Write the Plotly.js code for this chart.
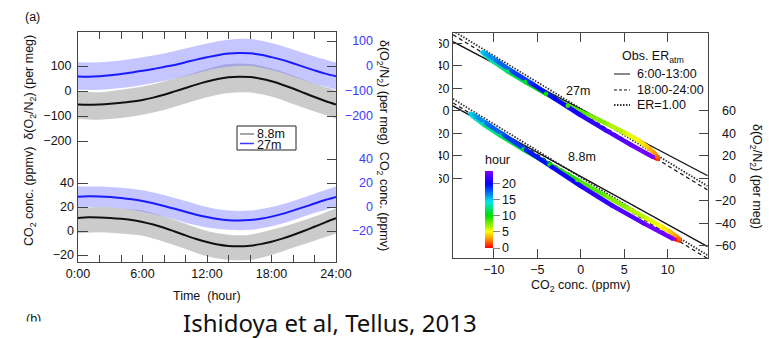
<!DOCTYPE html>
<html><head><meta charset="utf-8">
<script src="https://cdn.plot.ly/plotly-3.0.1.min.js"></script>
<style>html,body{margin:0;padding:0;background:#fff}#chart{width:769px;height:338px}</style>
</head><body><div id="chart"></div>
<script>
// ---------- data ----------
const hours = [0,1,2,3,4,5,6,7,8,9,10,11,12,13,14,15,16,17,18,19,20,21,22,23,24];
// fitted diurnal curves, 8.8 m (black)
const co2_88 = [10.9,11.4,11.3,10.9,10.2,9.1,7.6,5.4,2.7,-0.4,-3.6,-6.6,-9.2,-11.2,-12.4,-12.7,-12.2,-10.9,-8.9,-6.3,-3.3,0.0,3.6,7.2,10.6];
const o2_88  = [-54.1,-55.4,-53.9,-51.1,-47.3,-42.2,-35.8,-26.6,-15.0,-1.6,12.2,25.6,37.7,48.0,55.0,57.4,55.6,49.1,38.8,25.2,9.8,-7.0,-24.2,-39.9,-53.7];
// fitted diurnal curves, 27 m (blue)
const co2_27 = [8.6,8.9,8.8,8.4,7.6,6.5,5.0,3.1,0.9,-1.5,-4.0,-6.4,-8.4,-10.0,-11.0,-11.3,-10.9,-9.8,-8.0,-5.7,-3.0,-0.1,2.9,5.8,8.3];
const o2_27  = [-42.0,-42.9,-40.9,-37.1,-31.8,-25.7,-19.3,-12.0,-3.8,4.4,15.0,25.6,34.9,43.3,49.5,51.9,50.5,44.9,35.5,24.4,10.8,-3.6,-17.5,-30.5,-41.1];
// extent of the scattered observations (every 2 h)
const bandHours = [0,2,4,6,8,10,12,14,16,18,20,22,24];
const o2_88_hi  = [0,-5,5,18,38,62,88,108,108,90,62,30,2];
const o2_88_lo  = [-112,-115,-108,-95,-76,-50,-25,-8,-6,-22,-52,-82,-110];
const o2_27_hi  = [15,15,22,35,50,70,90,105,108,92,66,38,14];
const o2_27_lo  = [-95,-95,-88,-76,-60,-40,-18,-3,0,-16,-42,-70,-94];
const co2_88_hi = [19,20,19,17,12,6,0,-3,-3,1,6,12,19];
const co2_88_lo = [-2,-1,-2,-4,-9,-15,-21,-24,-24,-20,-14,-8,-2];
const co2_27_hi = [17,17,16,14,10,5,0,-3,-3,0,5,11,17];
const co2_27_lo = [0,0,-1,-4,-8,-13,-17,-19,-19,-16,-11,-5,0];
// observed ER lines (right panel)
const erX = [-14.7,14.6];
const er27_solid = [61.3,-57.8], er27_dash = [67.5,-70.5], er27_dot = [71,-67];
const er88_solid = [64.3,-60.8], er88_dash = [67,-71.5], er88_dot = [70.5,-68.5];
// ticks
const timeTicks = [0,2,4,6,8,10,12,14,16,18,20,22,24];
const timeLabels = ['0:00','','','6:00','','','12:00','','','18:00','','','24:00'];
const o2Ticks = [-200,-100,0,100];
const co2Ticks = [-20,0,20,40];
const erTicksY = [-60,-40,-20,0,20,40,60];
const erTicksX = [-10,-5,0,5,10];
const hourTicks = [0,5,10,15,20];

// ---------- helpers ----------
const W = 769, H = 338;
const px = v => v / W, py = v => 1 - v / H;
const FONT = 'Liberation Sans, Arial, sans-serif';
const rainbow = [[0,'#ff0000'],[0.1,'#ff8000'],[0.21,'#ffff00'],[0.42,'#00dd00'],[0.6,'#00e6e6'],[0.83,'#0000ff'],[1,'#8000ff']];
function hex2rgb(h){return [parseInt(h.slice(1,3),16),parseInt(h.slice(3,5),16),parseInt(h.slice(5,7),16)];}
function colorAt(t){
  for (let i=1;i<rainbow.length;i++){
    if (t <= rainbow[i][0]){
      const a=rainbow[i-1], b=rainbow[i], f=(t-a[0])/(b[0]-a[0]);
      const ca=hex2rgb(a[1]), cb=hex2rgb(b[1]);
      return 'rgb('+ca.map((c,k)=>Math.round(c+(cb[k]-c)*f)).join(',')+')';
    }
  }
  return rainbow[rainbow.length-1][1];
}

const traces = [];
function band(lo, hi, ya, fill){
  traces.push({x:bandHours, y:lo, xaxis:'x', yaxis:ya, mode:'lines', line:{width:0, shape:'spline'}, hoverinfo:'skip', showlegend:false});
  traces.push({x:bandHours, y:hi, xaxis:'x', yaxis:ya, mode:'lines', line:{width:0, shape:'spline'}, fill:'tonexty',
    fillcolor:fill, hoverinfo:'skip', showlegend:false});
}
// scatter clouds
band(o2_88_lo, o2_88_hi, 'y', 'rgba(140,140,140,0.45)');
band(co2_88_lo, co2_88_hi, 'y2', 'rgba(140,140,140,0.45)');
band(o2_27_lo, o2_27_hi, 'y3', 'rgba(110,110,255,0.40)');
band(co2_27_lo, co2_27_hi, 'y4', 'rgba(110,110,255,0.40)');
// mean curves
traces.push({x:hours, y:o2_88, xaxis:'x', yaxis:'y', mode:'lines', line:{color:'#111', width:2, shape:'spline'}, showlegend:false});
traces.push({x:hours, y:co2_88, xaxis:'x', yaxis:'y2', mode:'lines', line:{color:'#111', width:2, shape:'spline'}, showlegend:false});
traces.push({x:hours, y:o2_27, xaxis:'x', yaxis:'y3', mode:'lines', line:{color:'#1a1aff', width:2, shape:'spline'}, showlegend:false});
traces.push({x:hours, y:co2_27, xaxis:'x', yaxis:'y4', mode:'lines', line:{color:'#1a1aff', width:2, shape:'spline'}, showlegend:false});
// dummy traces for label-only axes
traces.push({x:[], y:[], xaxis:'x', yaxis:'y5', showlegend:false});
traces.push({x:[], y:[], xaxis:'x', yaxis:'y6', showlegend:false});
traces.push({x:[], y:[], xaxis:'x2', yaxis:'y9', showlegend:false});

// ER lines
function erLine(y, ya, dash, color, width){
  traces.push({x:erX, y:y, xaxis:'x2', yaxis:ya, mode:'lines', line:{color:color, width:width, dash:dash}, hoverinfo:'skip', showlegend:false});
}
erLine(er27_dot, 'y7', '1.5px,1.5px', '#333', 1.8);
erLine(er27_dash, 'y7', '4px,3px', '#111', 1.2);
erLine(er27_solid, 'y7', 'solid', '#111', 1.3);
erLine(er88_dot, 'y8', '1.5px,1.5px', '#333', 1.8);
erLine(er88_dash, 'y8', '4px,3px', '#111', 1.2);
erLine(er88_solid, 'y8', 'solid', '#111', 1.3);

// colored loops
function loop(cx, cy, ya, bar){
  for (let i=0;i<cx.length-1;i++){
    traces.push({x:[cx[i],cx[i+1]], y:[cy[i],cy[i+1]], xaxis:'x2', yaxis:ya, mode:'lines',
      line:{color:colorAt((hours[i]+hours[i+1])/48), width:4.5}, hoverinfo:'skip', showlegend:false});
  }
  const m = {x:cx, y:cy, xaxis:'x2', yaxis:ya, mode:'markers',
    marker:{color:hours, colorscale:rainbow, cmin:0, cmax:24, size:4.5, showscale:bar}, hoverinfo:'skip', showlegend:false};
  if (bar) m.marker.colorbar = {x:px(485), xanchor:'left', y:py(248), yanchor:'bottom', len:96, lenmode:'pixels',
    thickness:8, thicknessmode:'pixels', outlinewidth:0, xpad:0, ypad:0, tickvals:hourTicks, ticks:'outside', ticklen:7,
    tickcolor:'#888', tickfont:{family:FONT, size:12.5, color:'#111'}, title:{text:'hour', side:'top', font:{family:FONT, size:12.5, color:'#111'}}};
  traces.push(m);
}
loop(co2_27, o2_27, 'y7', true);
loop(co2_88, o2_88, 'y8', false);

// ---------- layout ----------
const tf = {family:FONT, size:12.5, color:'#111'};
const tfb = {family:FONT, size:12.5, color:'#3a3aff'};
const base = {showgrid:false, zeroline:false, linecolor:'#444', tickcolor:'#444', linewidth:1, tickfont:tf, fixedrange:true};
const yDomL = [py(262), py(32)];
const yDomR = [py(258), py(32.7)];

const layout = {
  width:W, height:H, margin:{l:0,r:0,t:0,b:0}, paper_bgcolor:'#fff', plot_bgcolor:'rgba(0,0,0,0)', showlegend:false,
  font:{family:FONT, size:12.5, color:'#111'},
  xaxis:Object.assign({}, base, {domain:[px(78), px(336)], range:[0,24], anchor:'y', tickvals:timeTicks, ticktext:timeLabels,
    ticks:'inside', ticklen:7, showline:true, mirror:'ticks'}),
  yaxis:Object.assign({}, base, {domain:yDomL, range:[-684,236], anchor:'x', tickvals:o2Ticks, ticks:'inside', ticklen:10, showline:true, ticklabelstandoff:3}),
  yaxis2:Object.assign({}, base, {overlaying:'y', range:[-25.8,165.8], anchor:'x', side:'left', tickvals:co2Ticks, ticks:'inside', ticklen:10, showline:false, ticklabelstandoff:3}),
  yaxis3:Object.assign({}, base, {overlaying:'y', range:[-784,136], anchor:'x', side:'right', tickvals:o2Ticks, ticks:'inside', ticklen:9, showline:true, showticklabels:false}),
  yaxis4:Object.assign({}, base, {overlaying:'y', range:[-45.8,145.8], anchor:'x', side:'right', tickvals:co2Ticks, ticks:'inside', ticklen:9, showline:false, showticklabels:false}),
  yaxis5:Object.assign({}, base, {overlaying:'y', range:[-784,136], anchor:'free', position:px(373), side:'left', tickvals:o2Ticks, ticks:'', showline:false, tickfont:tfb}),
  yaxis6:Object.assign({}, base, {overlaying:'y', range:[-45.8,145.8], anchor:'free', position:px(373), side:'left', tickvals:co2Ticks, ticks:'', showline:false, tickfont:tfb}),
  xaxis2:Object.assign({}, base, {domain:[px(453), px(707.7)], range:[-14.7,14.6], anchor:'y7', tickvals:erTicksX,
    ticks:'inside', ticklen:9, showline:true, mirror:'ticks'}),
  yaxis7:Object.assign({}, base, {domain:yDomR, range:[-130.9,69.3], anchor:'x2', tickvals:erTicksY, ticks:'inside', ticklen:9, showline:true}),
  yaxis8:Object.assign({}, base, {overlaying:'y7', range:[-70.9,129.4], anchor:'x2', side:'right', tickvals:erTicksY, ticks:'inside', ticklen:9, showline:true, showticklabels:false}),
  yaxis9:Object.assign({}, base, {overlaying:'y7', range:[-70.9,129.4], anchor:'free', position:px(736), side:'left', tickvals:erTicksY, ticks:'', showline:false}),
  shapes:[
    // hide the left part of the cropped tick labels of the right panel
    {type:'rect', xref:'paper', yref:'paper', x0:px(398), x1:px(439), y0:py(190), y1:py(30), fillcolor:'#fff', line:{width:0}, layer:'above'},
    // left legend box and samples
    {type:'rect', xref:'paper', yref:'paper', x0:px(237), x1:px(296), y0:py(150), y1:py(126), line:{color:'#222', width:1}, fillcolor:'#fff', layer:'above'},
    {type:'line', xref:'paper', yref:'paper', x0:px(240), x1:px(254), y0:py(134), y1:py(134), line:{color:'#888', width:1.5}, layer:'above'},
    {type:'line', xref:'paper', yref:'paper', x0:px(240), x1:px(254), y0:py(143.5), y1:py(143.5), line:{color:'#3a3aff', width:1.5}, layer:'above'},
    // right legend samples
    {type:'line', xref:'paper', yref:'paper', x0:px(614), x1:px(630), y0:py(74), y1:py(74), line:{color:'#888', width:2}, layer:'above'},
    {type:'line', xref:'paper', yref:'paper', x0:px(614), x1:px(630), y0:py(90), y1:py(90), line:{color:'#111', width:1.2, dash:'3px,2px'}, layer:'above'},
    {type:'line', xref:'paper', yref:'paper', x0:px(614), x1:px(630), y0:py(105), y1:py(105), line:{color:'#333', width:1.8, dash:'1.5px,1.5px'}, layer:'above'}
  ],
  annotations:[]
};
function ann(text, x, y, opt){
  layout.annotations.push(Object.assign({text:text, xref:'paper', yref:'paper', x:px(x), y:py(y), showarrow:false,
    xanchor:'center', yanchor:'middle', font:{family:FONT, size:12.5, color:'#111'}}, opt||{}));
}
const NB = '\u00a0';
ann('(a)', 32, 17);
ann('CO<sub>2</sub> conc. (ppmv)'+NB+NB+'δ(O<sub>2</sub>/N<sub>2</sub>) (per meg)', 30, 141, {textangle:-90});
ann('δ(O<sub>2</sub>/N<sub>2</sub>) (per meg)'+NB+NB+'CO<sub>2</sub> conc. (ppmv)', 383, 145, {textangle:90});
ann('Time'+NB+NB+'(hour)', 207, 296);
ann('8.8m', 256, 134, {xanchor:'left', borderpad:0, font:{family:FONT, size:12.5, color:'#111'}});
ann('27m', 256, 144.5, {xanchor:'left', borderpad:0, font:{family:FONT, size:12.5, color:'#111'}});
ann('Obs. ER<sub>atm</sub>', 620, 57, {xanchor:'left'});
ann('6:00-13:00', 635, 74, {xanchor:'left'});
ann('18:00-24:00', 635, 90, {xanchor:'left'});
ann('ER=1.00', 635, 105, {xanchor:'left'});
ann('27m', 578, 91);
ann('8.8m', 582, 157);
ann('δ(O<sub>2</sub>/N<sub>2</sub>) (per meg)', 756, 176, {textangle:90});
ann('CO<sub>2</sub> conc. (ppmv)', 580, 286);
ann('(b)', 33, 319);
ann(' ', 40, 333, {bgcolor:'#fff', width:60, height:20, borderpad:1});
ann('Ishidoya et al, Tellus, 2013', 330, 322, {font:{family:'Noto Sans, sans-serif', size:24, color:'#111'}});

Plotly.newPlot('chart', traces, layout, {staticPlot:true, displayModeBar:false});
</script>
</body></html>
